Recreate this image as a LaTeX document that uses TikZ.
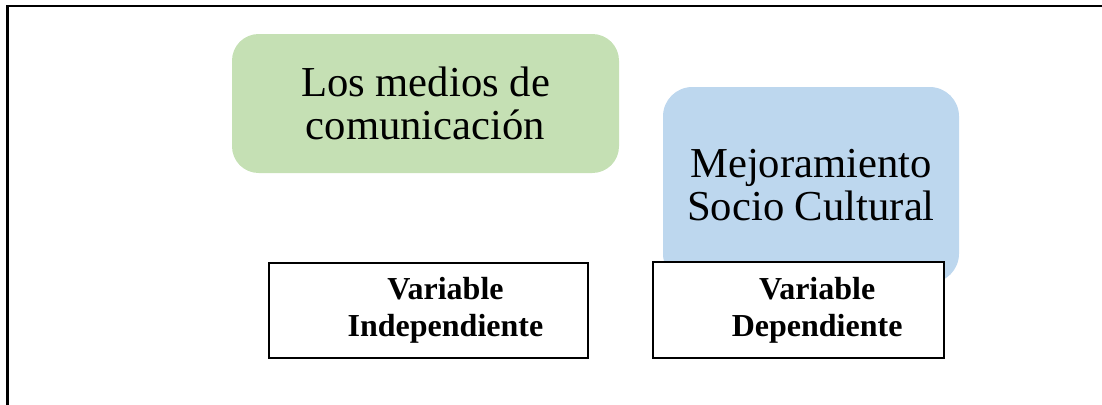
\documentclass[tikz,border=0pt]{standalone}
\usepackage{fontspec}
\setmainfont{Liberation Serif}
\usetikzlibrary{positioning}
\definecolor{mediogreen}{HTML}{C5E0B4}
\definecolor{mejorablue}{HTML}{BDD7EE}

\begin{document}
\begin{tikzpicture}[
    x=0.75pt, y=-0.75pt,
    every node/.style={font=\rmfamily},
    softbox/.style={
        fill=#1, draw=none, rounded corners=20pt, align=center,
        font=\fontsize{32}{32.25}\selectfont
    },
    varbox/.style={
        draw=black, fill=white, line width=1.5pt,
        minimum height=71.5pt, inner sep=0pt
    },
    vartext/.style={font=\fontsize{24}{27.75}\selectfont\bfseries, align=center},
]

% === Page frame ===
\clip (0,0) rectangle (1102,404);
\draw[line width=2pt] (7.5,6) rectangle (1120,430);

% === Variables ===
\node[softbox=mediogreen, minimum width=290.25pt, minimum height=104.25pt] (medios)
    at (425.5,103.5) {Los medios de\\comunicación};
\node[softbox=mejorablue, minimum width=222pt, minimum height=147pt,
    rounded corners=22pt] (mejora)
    at (811,185) {Mejoramiento\\Socio Cultural};

% === Labels ===
\node[varbox, minimum width=239.25pt] (indep) at (428.5,310.5) {};
\node[vartext] at ([xshift=12.75pt]indep.center) {Variable\\Independiente};

\node[varbox, minimum width=218.25pt] (dep) at (798.5,310) {};
\node[vartext] at ([xshift=14pt]dep.center) {Variable\\Dependiente};

\end{tikzpicture}
\end{document}
